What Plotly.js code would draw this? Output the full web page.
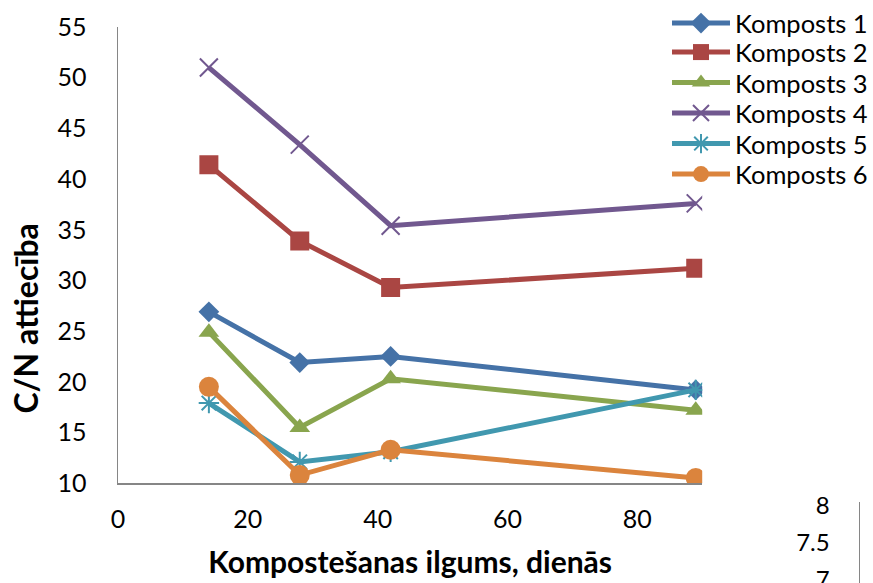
<!DOCTYPE html>
<html>
<head>
<meta charset="utf-8">
<script src="https://cdn.plot.ly/plotly-3.0.1.min.js"></script>
<style>html,body{margin:0;padding:0;background:#fff;}#chart{width:873px;height:583px;}</style>
</head>
<body>
<div id="chart"></div>
<script>
// Data
const days = [14, 28, 42, 89];
const seriesNames = ["Komposts 1", "Komposts 2", "Komposts 3", "Komposts 4", "Komposts 5", "Komposts 6"];
const komposts1 = [26.9, 21.9, 22.5, 19.2];
const komposts2 = [41.4, 33.9, 29.3, 31.2];
const komposts3 = [24.9, 15.5, 20.3, 17.2];
const komposts4 = [51.0, 43.4, 35.4, 37.6];
const komposts5 = [17.9, 12.1, 13.1, 19.2];
const komposts6 = [19.5, 10.8, 13.3, 10.5];
const yTicks = [10, 15, 20, 25, 30, 35, 40, 45, 50, 55];
const xTicks = [0, 20, 40, 60, 80];
const sideTicks = [7, 7.5, 8];
const sideTickText = ["7", "7.5", "8"];
const xTitle = "Kompostešanas ilgums, dienās";
const yTitle = "C/N attiecība";

const colors = ["#4572A7", "#AA4643", "#89A54E", "#71588F", "#4198AF", "#DB843D"];
const symbols = ["diamond", "square", "triangle-up", "x-thin-open", "asterisk-open", "circle"];
const sizes = [16, 19, 18, 18, 17, 20];
const values = [komposts1, komposts2, komposts3, komposts4, komposts5, komposts6];

const FONT = "Lato, Carlito, Calibri, sans-serif";

const W = 873, H = 583;
const mL = 118, mR = 10, mT = 26, mB = 0;
const plotW = W - mL - mR, plotH = H - mT - mB;
const mainRight = 703, mainBottom = 483;

const traces = values.map((v, i) => ({
  type: "scatter",
  mode: "lines+markers",
  name: seriesNames[i],
  legend: i === 0 ? "legend" : "legend" + (i + 1),
  x: days,
  y: v,
  xaxis: "x",
  yaxis: "y",
  line: {color: colors[i], width: 5},
  marker: {
    symbol: symbols[i],
    size: sizes[i],
    color: colors[i],
    line: {color: colors[i], width: (symbols[i].indexOf("open") >= 0) ? 2 : 0}
  }
}));

// empty trace so the partial side axis (cropped neighbouring chart) is drawn
traces.push({type: "scatter", x: [], y: [], xaxis: "x2", yaxis: "y2", showlegend: false, hoverinfo: "skip"});

const layout = {
  width: W, height: H,
  margin: {l: mL, r: mR, t: mT, b: mB, pad: 0},
  paper_bgcolor: "#ffffff",
  plot_bgcolor: "rgba(0,0,0,0)",
  font: {family: FONT, size: 24, color: "#000000"},
  showlegend: true,
  xaxis: {
    domain: [0, (mainRight - mL) / plotW],
    range: [0, 90],
    anchor: "y",
    tickmode: "array",
    tickvals: xTicks,
    ticktext: xTicks.map(String),
    ticks: "",
    ticklabelstandoff: 13,
    showgrid: false,
    zeroline: false,
    showline: true,
    linecolor: "#868686",
    linewidth: 1.5,
    tickfont: {family: FONT, size: 25, color: "#000000"},
    title: {text: "<b>" + xTitle + "</b>", font: {family: FONT, size: 30, color: "#000000"}, standoff: 20}
  },
  yaxis: {
    domain: [(H - mainBottom - mB) / plotH, 1],
    range: [10, 55],
    anchor: "x",
    tickmode: "array",
    tickvals: yTicks,
    ticktext: yTicks.map(String),
    ticks: "",
    ticklabelstandoff: 25,
    showgrid: false,
    zeroline: false,
    showline: true,
    linecolor: "#868686",
    linewidth: 1.5,
    tickfont: {family: FONT, size: 25, color: "#000000"}
  },
  xaxis2: {
    domain: [(861 - mL) / plotW, 1],
    anchor: "y2",
    visible: false,
    range: [0, 1]
  },
  yaxis2: {
    domain: [0, (H - 502 - mB) / plotH],
    anchor: "x2",
    side: "left",
    range: [6.95, 8.04],
    tickmode: "array",
    tickvals: sideTicks,
    ticktext: sideTickText,
    ticks: "",
    ticklabelstandoff: 24,
    ticklabeloverflow: "allow",
    showgrid: false,
    zeroline: false,
    showline: true,
    linecolor: "#868686",
    linewidth: 1.5,
    tickfont: {family: FONT, size: 24, color: "#000000"}
  },
  annotations: [{
    text: "<b>" + yTitle + "</b>",
    textangle: -90,
    xref: "paper", yref: "paper",
    x: (25 - mL) / plotW, y: (H - 318 - mB) / plotH,
    xanchor: "center", yanchor: "middle",
    showarrow: false,
    font: {family: FONT, size: 32, color: "#000000"}
  }]
};

// one legend box per series so the row spacing matches the reference
const rowCenters = [22, 52.5, 83, 113.5, 144, 174.5];
rowCenters.forEach((yc, i) => {
  const key = i === 0 ? "legend" : "legend" + (i + 1);
  layout[key] = {
    x: (668 - mL) / plotW, xanchor: "left",
    y: (H - yc - mB) / plotH, yanchor: "middle",
    font: {family: FONT, size: 25.5, color: "#000000"},
    bgcolor: "rgba(0,0,0,0)",
    borderwidth: 0,
    itemwidth: 58
  };
});

Plotly.newPlot("chart", traces, layout, {staticPlot: true, displayModeBar: false});
</script>
</body>
</html>
